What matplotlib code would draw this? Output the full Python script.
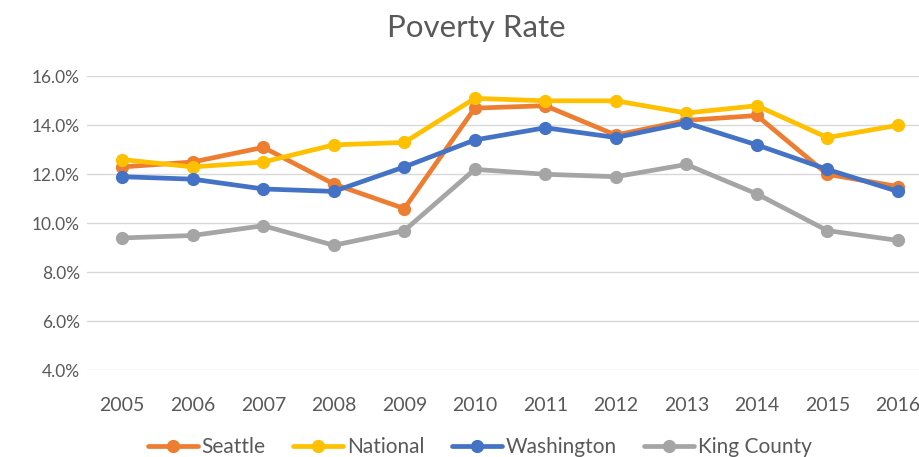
import matplotlib.pyplot as plt
from matplotlib.ticker import FuncFormatter

years = ['2005', '2006', '2007', '2008', '2009', '2010',
         '2011', '2012', '2013', '2014', '2015', '2016']

seattle = [12.3, 12.5, 13.1, 11.6, 10.6, 14.7, 14.8, 13.6, 14.2, 14.4, 12.0, 11.5]
national = [12.6, 12.3, 12.5, 13.2, 13.3, 15.1, 15.0, 15.0, 14.5, 14.8, 13.5, 14.0]
washington = [11.9, 11.8, 11.4, 11.3, 12.3, 13.4, 13.9, 13.5, 14.1, 13.2, 12.2, 11.3]
king_county = [9.4, 9.5, 9.9, 9.1, 9.7, 12.2, 12.0, 11.9, 12.4, 11.2, 9.7, 9.3]

series = [
    ('Seattle', seattle, '#ED7D31'),
    ('National', national, '#FFC000'),
    ('Washington', washington, '#4472C4'),
    ('King County', king_county, '#A5A5A5'),
]

plt.rcParams['font.family'] = ['Lato', 'DejaVu Sans']
text_color = '#595959'

fig = plt.figure(figsize=(9.19, 4.57), dpi=100)
ax = fig.add_axes([0.0947, 0.190, 0.9206, 0.643])

x = range(len(years))
for name, values, color in series:
    ax.plot(x, values, color=color, linewidth=3.4, marker='o',
            markersize=8.5, label=name, solid_capstyle='round')

ax.set_xlim(-0.5, len(years) - 0.5)
ax.set_ylim(4, 16)
ax.set_yticks([4, 6, 8, 10, 12, 14, 16])
ax.yaxis.set_major_formatter(FuncFormatter(lambda v, p: f'{v:.1f}%'))
ax.set_xticks(list(x))
ax.set_xticklabels(years)

ax.grid(axis='y', color='#D9D9D9', linewidth=1)
ax.set_axisbelow(True)
for s in ax.spines.values():
    s.set_visible(False)
ax.tick_params(axis='both', length=0, labelcolor=text_color)
ax.tick_params(axis='x', pad=19, labelsize=14)
ax.tick_params(axis='y', pad=5, labelsize=12.5)

fig.text(0.518, 0.939, 'Poverty Rate', ha='center', va='center',
         fontsize=22.5, color=text_color)

fig.legend(loc='center', bbox_to_anchor=(0.522, 0.022), ncol=4, frameon=False,
           fontsize=15, labelcolor=text_color, handlelength=2.4,
           handletextpad=0.2, columnspacing=1.3)

fig.savefig('out.png', dpi=100)
